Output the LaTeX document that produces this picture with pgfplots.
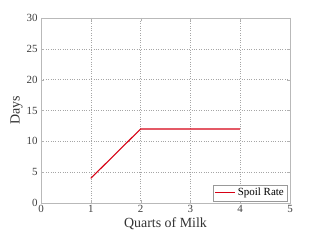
\documentclass[border=0pt]{standalone}
\usepackage{pgfplots}
\pgfplotsset{compat=1.18}
\usepackage{fontspec}
\setmainfont{Liberation Serif}
\definecolor{spoil}{RGB}{215,0,20}
\begin{document}
\begin{tikzpicture}[x=1bp,y=1bp]
\path[use as bounding box,fill=white] (0,0) rectangle (320,240);
\begin{axis}[
  at={(41bp,37bp)}, anchor=south west,
  scale only axis, width=249bp, height=185bp,
  xmin=0, xmax=5, ymin=0, ymax=30,
  xtick={0,1,2,3,4,5}, ytick={0,5,10,15,20,25,30},
  grid=major,
  major grid style={dotted, gray!70, line width=0.5pt},
  axis line style={gray!55, line width=1pt},
  tick style={gray!60},
  major tick length=3bp,
  tick align=inside,
  /pgf/number format/assume math mode=true,
  ticklabel style={font=\fontsize{11}{12}\selectfont, text=black!75},
  xticklabel style={yshift=1bp},
  xlabel={Quarts of Milk}, ylabel={Days},
  label style={font=\fontsize{14}{16}\selectfont, text=black!80},
  xlabel style={yshift=2bp},
  ylabel style={yshift=-3bp},
  legend style={font=\fontsize{11}{12}\selectfont, draw=gray!80, inner sep=1.5pt,
    at={(0.99,0.01)}, anchor=south east},
  legend image code/.code={\draw[spoil, line width=1.1pt] (0bp,0bp) -- (20bp,0bp);},
  legend cell align=left,
]
\addplot[color=spoil, line width=1.1pt] coordinates {(1,4) (2,12) (3,12) (4,12)};
\addlegendentry{Spoil Rate}
\end{axis}
\end{tikzpicture}
\end{document}
